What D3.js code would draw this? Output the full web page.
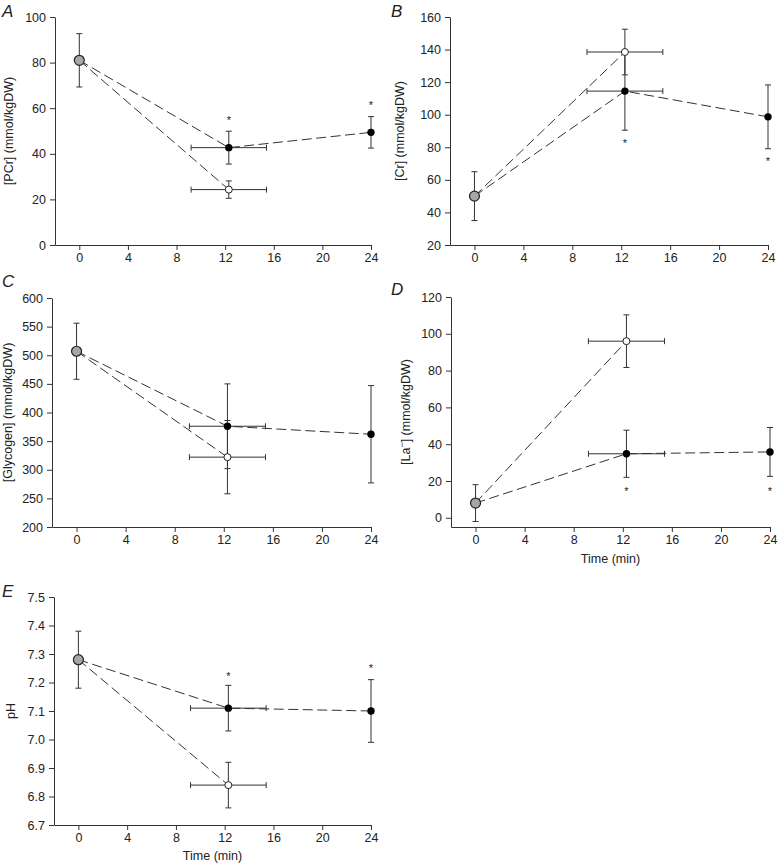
<!DOCTYPE html>
<html>
<head>
<meta charset="utf-8">
<script src="https://cdn.jsdelivr.net/npm/d3@7"></script>
<style>
  html, body { margin: 0; padding: 0; background: #fff; }
  svg text { font-family: "Liberation Sans", Arial, sans-serif; fill: #222; }
</style>
</head>
<body>
<svg id="chart" width="778" height="866"></svg>
<script>
// ---------- data ----------
const panelLetters = ["A", "B", "C", "D", "E"];
const yLabelMain = ["[PCr] (mmol/kgDW)", "[Cr] (mmol/kgDW)", "[Glycogen] (mmol/kgDW)", "[La", "pH"];
const yLabelSup = [null, null, null, "\u2212", null];
const yLabelTail = [null, null, null, "] (mmol/kgDW)", null];
const yDomains = [[0, 100], [20, 160], [200, 600], [-5, 120], [6.7, 7.5]];
const yTickValues = [
  [0, 20, 40, 60, 80, 100],
  [20, 40, 60, 80, 100, 120, 140, 160],
  [200, 250, 300, 350, 400, 450, 500, 550, 600],
  [0, 20, 40, 60, 80, 100, 120],
  [6.7, 6.8, 6.9, 7.0, 7.1, 7.2, 7.3, 7.4, 7.5]
];
const xTickValues = [0, 4, 8, 12, 16, 20, 24];

// times (min)
const timeBase = 0;
const timeMid = 12.3;
const timeMidLo = 9.2;
const timeMidHi = 15.4;
const timeEnd = 24;

// baseline (grey) point, mean and SD
const greyMean = [81, 50, 507, 8, 7.28];
const greySD = [11.7, 15, 49, 10, 0.10];
// open circle at ~12 min
const openMean = [24.3, 138.5, 322, 96, 6.84];
const openSD = [3.8, 14, 64, 14.3, 0.08];
// filled circle at ~12 min
const solidMidMean = [42.7, 114.5, 376, 34.8, 7.11];
const solidMidSD = [7.2, 24, 74, 12.8, 0.08];
// filled circle at 24 min
const solidEndMean = [49.4, 98.7, 362, 35.8, 7.10];
const solidEndSD = [6.9, 19.6, 85, 13.3, 0.11];
// significance asterisks (y position in data units; null = none)
const starMid = [55.2, 83.2, null, 15.1, 7.226];
const starEnd = [61.8, 72.4, null, 15.1, 7.253];
const xLabels = [null, null, null, "Time (min)", "Time (min)"];

// ---------- layout ----------
const boxes = [
  {l: 55,  r: 371, t: 17,  b: 245, letterX: 2,   letterY: 17,  ylabX: 13,  xlabY: null},
  {l: 450, r: 768, t: 17,  b: 245, letterX: 391, letterY: 17,  ylabX: 404, xlabY: null},
  {l: 52,  r: 371, t: 298, b: 527, letterX: 2,   letterY: 287, ylabX: 12,  xlabY: null},
  {l: 451, r: 770, t: 297, b: 527, letterX: 391, letterY: 295, ylabX: 410, xlabY: 563},
  {l: 54,  r: 371, t: 597, b: 825, letterX: 2,   letterY: 597, ylabX: 15,  xlabY: 860}
];

const svg = d3.select("#chart");
const fmts = [d3.format("d"), d3.format("d"), d3.format("d"), d3.format("d"), d3.format(".1f")];
const ink = "#333";

panelLetters.forEach((letter, i) => {
  const bx = boxes[i];
  const g = svg.append("g");
  const x = d3.scaleLinear().domain([-2, 24]).range([bx.l, bx.r]);
  const y = d3.scaleLinear().domain(yDomains[i]).range([bx.b, bx.t]);

  // axes
  const ya = g.append("g").attr("transform", `translate(${bx.l},0)`)
    .call(d3.axisLeft(y).tickValues(yTickValues[i]).tickFormat(fmts[i]).tickSize(5).tickPadding(4).tickSizeOuter(0));
  const xa = g.append("g").attr("transform", `translate(0,${bx.b})`)
    .call(d3.axisBottom(x).tickValues(xTickValues).tickSize(5).tickPadding(3).tickSizeOuter(0));
  [ya, xa].forEach(a => {
    a.selectAll("path,line").attr("stroke", ink).attr("stroke-width", 1);
    a.selectAll("text").attr("font-size", 12.5).style("fill", "#222");
  });

  // panel letter
  g.append("text").attr("x", bx.letterX).attr("y", bx.letterY)
    .attr("font-size", 17).attr("font-style", "italic").text(letter);

  // y label
  const yl = g.append("text")
    .attr("transform", `translate(${bx.ylabX},${(bx.t + bx.b) / 2}) rotate(-90)`)
    .attr("text-anchor", "middle").attr("font-size", 12.5);
  yl.append("tspan").text(yLabelMain[i]);
  if (yLabelSup[i]) {
    yl.append("tspan").attr("font-size", 9).attr("dy", -5).text(yLabelSup[i]);
    yl.append("tspan").attr("dy", 5).text(yLabelTail[i]);
  }

  if (xLabels[i]) {
    g.append("text").attr("x", (bx.l + bx.r) / 2).attr("y", bx.xlabY)
      .attr("text-anchor", "middle").attr("font-size", 12.5).text(xLabels[i]);
  }

  // dashed connecting lines
  const dash = "10,4.5";
  const lineGen = d3.line().x(d => x(d[0])).y(d => y(d[1]));
  g.append("path").datum([[timeBase, greyMean[i]], [timeMid, openMean[i]]])
    .attr("d", lineGen).attr("fill", "none").attr("stroke", ink).attr("stroke-width", 1).attr("stroke-dasharray", dash);
  g.append("path").datum([[timeBase, greyMean[i]], [timeMid, solidMidMean[i]], [timeEnd, solidEndMean[i]]])
    .attr("d", lineGen).attr("fill", "none").attr("stroke", ink).attr("stroke-width", 1).attr("stroke-dasharray", dash);

  // error bars
  const cap = 3;
  const vbar = (t, m, s) => {
    g.append("line").attr("x1", x(t)).attr("x2", x(t)).attr("y1", y(m - s)).attr("y2", y(m + s)).attr("stroke", ink);
    [m - s, m + s].forEach(v => g.append("line").attr("x1", x(t) - cap).attr("x2", x(t) + cap)
      .attr("y1", y(v)).attr("y2", y(v)).attr("stroke", ink));
  };
  const hbar = (m, lo, hi) => {
    g.append("line").attr("x1", x(lo)).attr("x2", x(hi)).attr("y1", y(m)).attr("y2", y(m)).attr("stroke", ink);
    [lo, hi].forEach(v => g.append("line").attr("x1", x(v)).attr("x2", x(v))
      .attr("y1", y(m) - cap).attr("y2", y(m) + cap).attr("stroke", ink));
  };
  vbar(timeBase, greyMean[i], greySD[i]);
  vbar(timeMid, openMean[i], openSD[i]);
  vbar(timeMid, solidMidMean[i], solidMidSD[i]);
  vbar(timeEnd, solidEndMean[i], solidEndSD[i]);
  hbar(openMean[i], timeMidLo, timeMidHi);
  hbar(solidMidMean[i], timeMidLo, timeMidHi);

  // markers
  g.append("circle").attr("cx", x(timeBase)).attr("cy", y(greyMean[i])).attr("r", 5)
    .attr("fill", "#a6a6a6").attr("stroke", "#222").attr("stroke-width", 1.2);
  g.append("circle").attr("cx", x(timeMid)).attr("cy", y(openMean[i])).attr("r", 3.5)
    .attr("fill", "#fff").attr("stroke", "#222").attr("stroke-width", 1);
  g.append("circle").attr("cx", x(timeMid)).attr("cy", y(solidMidMean[i])).attr("r", 3.7)
    .attr("fill", "#000");
  g.append("circle").attr("cx", x(timeEnd)).attr("cy", y(solidEndMean[i])).attr("r", 3.7)
    .attr("fill", "#000");

  // asterisks
  [[timeMid, starMid[i]], [timeEnd, starEnd[i]]].forEach(([t, v]) => {
    if (v === null) return;
    g.append("text").attr("x", x(t)).attr("y", y(v) + 5)
      .attr("text-anchor", "middle").attr("font-size", 11).style("fill", "#222").text("*");
  });
});
</script>
</body>
</html>
